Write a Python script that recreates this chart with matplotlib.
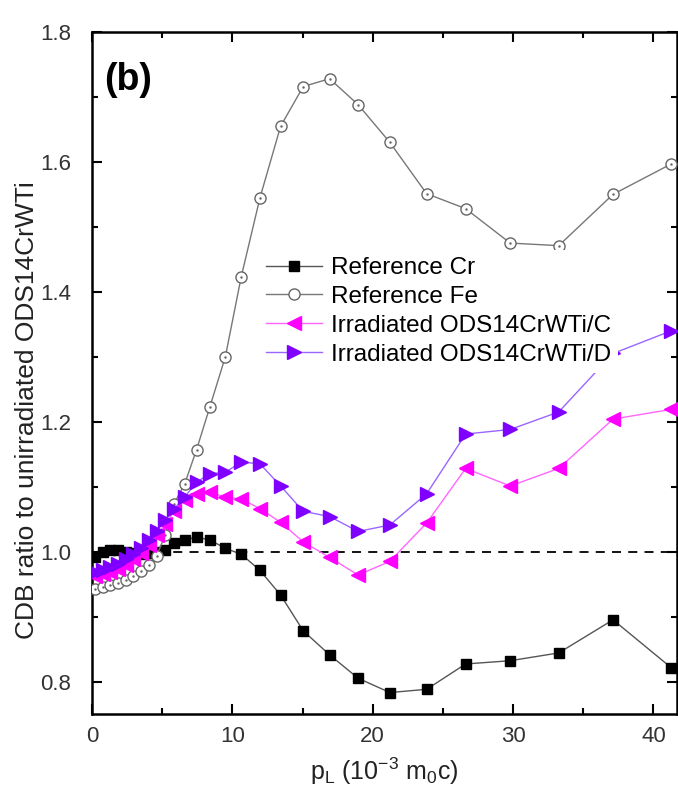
import matplotlib
matplotlib.use("Agg")
import matplotlib.pyplot as plt
from matplotlib.ticker import MultipleLocator

plt.rcParams['font.family'] = ['Liberation Sans', 'DejaVu Sans']
plt.rcParams['mathtext.fontset'] = 'custom'
plt.rcParams['mathtext.rm'] = 'Liberation Sans'

# momentum values p_L (10^-3 m0c), shared by all series
p_l = [0.2, 0.75, 1.3, 1.85, 2.4, 2.95, 3.5, 4.05, 4.6, 5.2, 5.85, 6.6, 7.45, 8.4, 9.5,
       10.63, 11.97, 13.44, 15.05, 16.93, 18.96, 21.22, 23.84, 26.62, 29.79, 33.25, 37.12, 41.28]

ref_cr = [0.992, 1.000, 1.003, 1.002, 1.000, 0.998, 0.997, 0.998, 1.000, 1.002, 1.013, 1.018,
          1.022, 1.018, 1.005, 0.996, 0.971, 0.933, 0.878, 0.841, 0.805, 0.783, 0.788, 0.827,
          0.832, 0.844, 0.895, 0.821]
ref_fe = [0.943, 0.945, 0.948, 0.952, 0.957, 0.963, 0.970, 0.980, 0.993, 1.025, 1.074, 1.104,
          1.157, 1.223, 1.300, 1.423, 1.545, 1.655, 1.716, 1.728, 1.688, 1.630, 1.551, 1.528,
          1.475, 1.471, 1.550, 1.597]
irr_c = [0.962, 0.965, 0.968, 0.973, 0.980, 0.988, 0.998, 1.010, 1.025, 1.042, 1.062, 1.080,
         1.089, 1.091, 1.084, 1.081, 1.066, 1.045, 1.015, 0.991, 0.964, 0.985, 1.044, 1.128,
         1.101, 1.128, 1.204, 1.219]
irr_d = [0.968, 0.972, 0.976, 0.981, 0.988, 0.996, 1.006, 1.018, 1.032, 1.048, 1.066, 1.084,
         1.107, 1.120, 1.122, 1.138, 1.135, 1.101, 1.062, 1.054, 1.031, 1.041, 1.089, 1.181,
         1.188, 1.215, 1.305, 1.340]

fig = plt.figure(figsize=(6.78, 7.99), dpi=100)
ax = fig.add_axes([0.1357, 0.1064, 0.8633, 0.8536])

ax.axhline(1.0, color='black', ls=(0, (5, 4)), lw=1.3, zorder=1)

ax.plot(p_l, ref_cr, color='#555555', lw=1.0, marker='s', ms=6.5, mfc='black', mec='black',
        label='Reference Cr', zorder=2)
ax.plot(p_l, ref_fe, color='#777777', lw=1.0, marker='o', ms=8, mfc='white', mec='#666666',
        mew=1.0, label='Reference Fe', zorder=3)
ax.plot(p_l, ref_fe, ls='none', marker='.', ms=1.5, color='#666666', zorder=3)
ax.plot(p_l, irr_c, color='#ff66ff', lw=1.0, marker='<', ms=9.5, mfc='#ff00ff', mec='#ff00ff',
        label='Irradiated ODS14CrWTi/C', zorder=4)
ax.plot(p_l, irr_d, color='#9966ff', lw=1.0, marker='>', ms=9.5, mfc='#7f00ff', mec='#7f00ff',
        label='Irradiated ODS14CrWTi/D', zorder=5)

ax.set_xlim(0, 41.7)
ax.set_ylim(0.75, 1.8)
ax.xaxis.set_major_locator(MultipleLocator(10))
ax.xaxis.set_minor_locator(MultipleLocator(5))
ax.yaxis.set_major_locator(MultipleLocator(0.2))
ax.yaxis.set_minor_locator(MultipleLocator(0.1))
ax.set_yticks([0.8, 1.0, 1.2, 1.4, 1.6, 1.8])
ax.tick_params(which='both', direction='in', top=True, right=True, width=1.5,
               labelsize=16, labelcolor='#333333')
ax.tick_params(axis='y', pad=15)
ax.tick_params(axis='x', pad=9)
ax.tick_params(which='major', length=7)
ax.tick_params(which='minor', length=4)
for s in ax.spines.values():
    s.set_linewidth(1.8)

ax.set_xlabel(r'p$_\mathrm{L}$ (10$^{-3}$ m$_0$c)', fontsize=18, color='#222222', labelpad=6)
ax.set_ylabel('CDB ratio to unirradiated ODS14CrWTi', fontsize=19, color='#222222')
ax.yaxis.set_label_coords(-0.09, 0.446)

ax.text(0.02, 0.93, '(b)', transform=ax.transAxes, fontsize=27, fontweight='bold',
        va='center', ha='left')

leg = ax.legend(loc='upper left', bbox_to_anchor=(0.2645, 0.6985), fontsize=17.5,
                frameon=True, facecolor='white', edgecolor='none', framealpha=1,
                handlelength=2.3, handletextpad=0.35, labelspacing=0.28, borderpad=0.3)
leg.set_zorder(10)

fig.savefig('out.png', dpi=100)
